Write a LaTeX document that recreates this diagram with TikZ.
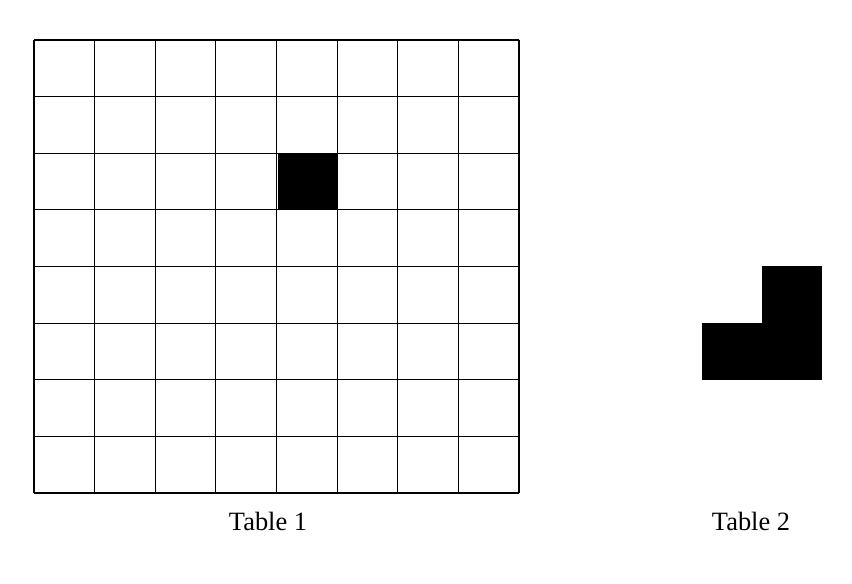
\documentclass[tikz,border=0pt]{standalone}
\usepackage{fontspec}
\setmainfont{Liberation Serif}
\begin{document}
\begin{tikzpicture}[x=0.75pt,y=-0.75pt,
  gridline/.style={line width=0.8pt,black},
  blackcell/.style={fill=black},
  caption/.style={font=\fontsize{19.8pt}{23pt}\selectfont,anchor=base,inner sep=0pt}]
\useasboundingbox (0,0) rectangle (852,584);
% Table 1
\fill[blackcell] (277.5,153.2) rectangle (338.1,209.8);
\foreach \i in {0,...,8}{
  \draw[gridline] ({34+\i*60.625},40) -- ({34+\i*60.625},493);
  \draw[gridline] (34,{40+\i*56.625}) -- (519,{40+\i*56.625});
}
% Table 2
\fill[blackcell] (762,266) rectangle (822,380);
\fill[blackcell] (702,323) rectangle (762,380);
\node[caption] (t1) at (268,530) {Table 1};
\node[caption] (t2) at (751,530) {Table 2};
\end{tikzpicture}
\end{document}
